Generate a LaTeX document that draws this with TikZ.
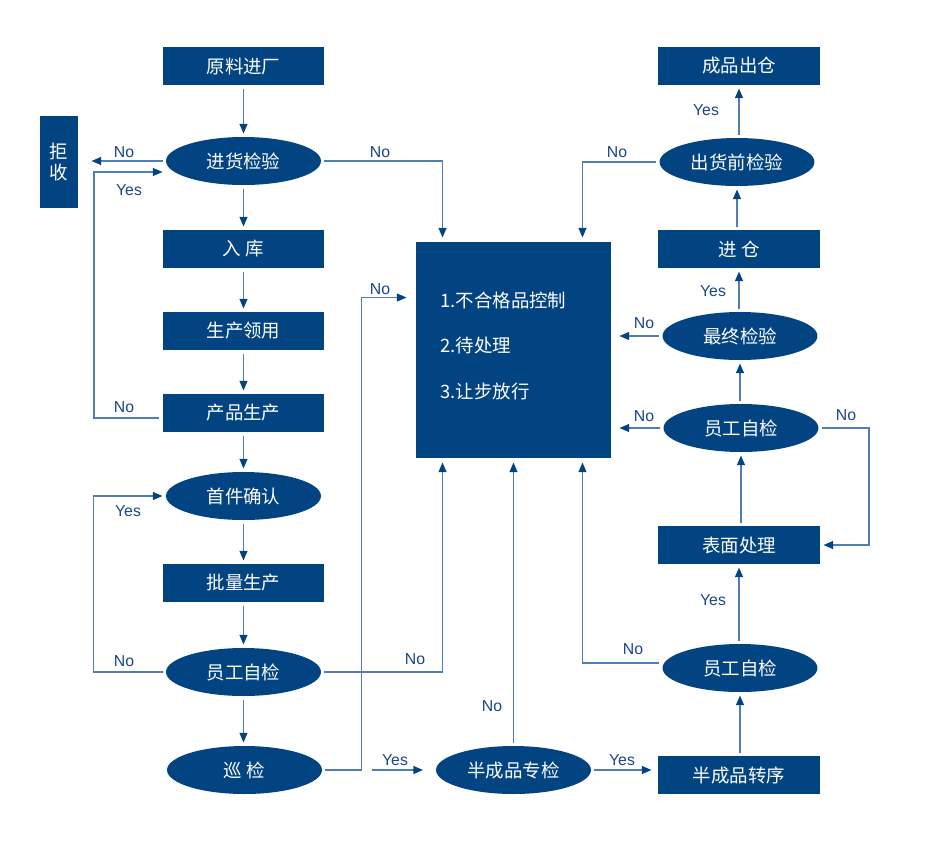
\documentclass[tikz,border=0pt]{standalone}
\usepackage{fontspec}
\setmainfont{Liberation Sans}
\newfontfamily\cjk{Noto Sans CJK SC}
\usetikzlibrary{shapes.geometric, arrows.meta, positioning, calc}
\definecolor{boxBlue}{RGB}{2,67,130}
\definecolor{lineBlue}{RGB}{80,125,180}
\definecolor{tagBlue}{RGB}{25,70,135}

\begin{document}
\begin{tikzpicture}[x=0.02cm, y=-0.02cm,
    box/.style={rectangle, fill=boxBlue, text=white, font=\cjk\fontsize{10.5}{11.5}\selectfont,
        minimum width=3.24cm, minimum height=0.76cm, inner sep=0pt, outer sep=0.07cm},
    oval/.style={ellipse, fill=boxBlue, text=white, font=\cjk\fontsize{10.5}{11.5}\selectfont,
        minimum width=3.1cm, minimum height=0.96cm, inner sep=0pt, outer sep=0.07cm},
    txt/.style={text=white, font=\cjk\fontsize{10.5}{12}\selectfont, inner sep=0pt, anchor=west},
    arr/.style={draw=lineBlue, line width=0.8pt, -{Triangle[length=5.5pt,width=4.5pt,color=boxBlue]}},
    link/.style={draw=lineBlue, line width=0.8pt},
    tag/.style={text=tagBlue, font=\fontsize{9}{10}\selectfont, inner sep=0pt}]
    \useasboundingbox (0,0) rectangle (948,843);

    % Left column: incoming material and production
    \node[box] (ylc) at (243.5,66) {原料进厂};
    \node[oval] (jh) at (243.5,161) {进货检验};
    \node[box] (rk) at (243.5,249) {入 库};
    \node[box] (ly) at (243.5,331) {生产领用};
    \node[box] (cp) at (243.5,413) {产品生产};
    \node[oval] (sj) at (243.5,496) {首件确认};
    \node[box] (pl) at (243.5,583) {批量生产};
    \node[oval] (yg1) at (243.5,672) {员工自检};
    \node[oval] (xj) at (244.5,770) {巡 检};
    \node[box, minimum width=0.76cm, minimum height=1.86cm, align=center] (js) at (59,162) {拒\\收};

    % Nonconforming product box
    \node[box, minimum width=3.9cm, minimum height=4.32cm, outer sep=0.09cm] (bx) at (513.5,350) {};
    \node[txt] (t1) at (440,300) {1.不合格品控制};
    \node[txt] (t2) at (440,346) {2.待处理};
    \node[txt] (t3) at (440,391) {3.让步放行};
    \node[oval] (bz) at (513.5,770) {半成品专检};

    % Right column: finishing and shipping
    \node[box] (cc) at (739,66) {成品出仓};
    \node[oval] (cq) at (737,162) {出货前检验};
    \node[box] (jc) at (739,249) {进 仓};
    \node[oval] (zz) at (740,336) {最终检验};
    \node[oval] (yg2) at (741,428) {员工自检};
    \node[box] (bm) at (739,545) {表面处理};
    \node[oval] (yg3) at (740,668) {员工自检};
    \node[box] (zx) at (739,775) {半成品转序};

    % Straight flow
    \foreach \a/\b in {ylc/jh, jh/rk, rk/ly, ly/cp, cp/sj, sj/pl, pl/yg1, yg1/xj}
        \draw[arr] (\a.south) -- (\a.south |- \b.north);
    \foreach \a/\b in {zx/yg3, yg3/bm, bm/yg2, yg2/zz, zz/jc, jc/cq, cq/cc}
        \draw[arr] (\b.south |- \a.north) -- (\b.south);

    % Left loops
    \draw[arr, shorten >=0.2cm] (jh.west) -- (jh.west -| js.east);
    \draw[arr] ($(cp.west)+(0,5)$) -- ++(-65,0) |- ($(jh.west)+(0,11)$);
    \draw[arr] (yg1.west) -- ++(-69,0) |- (sj.west);

    % Into the nonconforming box
    \draw[arr] (jh.east) -| ($(bx.north west)+(31,0)$);
    \draw[arr] (yg1.east) -| ($(bx.south west)+(31,0)$);
    \draw[arr, shorten >=0.1cm] (xj.east) -- ++(36,0) |- ($(bx.north west)+(0,60)$);
    \draw[arr] (bz.north) -- (bz.north |- bx.south);
    \draw[arr] (cq.west) -| ($(bx.north east)+(-33,0)$);
    \draw[arr, shorten >=0.08cm] (zz.west) -- (zz.west -| bx.east);
    \draw[arr, shorten >=0.08cm] (yg2.west) -- (yg2.west -| bx.east);
    \draw[arr] ($(yg3.west)+(0,-5)$) -| ($(bx.south east)+(-33,0)$);

    % Bottom row and rework loop
    \draw[arr, shorten <=0.93cm, shorten >=0.19cm] (xj.east) -- (bz.west);
    \draw[arr, shorten >=0.06cm] (bz.east) -- (bz.east -| zx.west);
    \draw[arr] (yg2.east) -- ++(47,0) |- (bm.east);

    % Labels
    \node[tag] (n1) at (124,152) {No};
    \node[tag] (y1) at (129,190) {Yes};
    \node[tag] (n2) at (380,152) {No};
    \node[tag] (n3) at (124,407) {No};
    \node[tag] (y2) at (128,511) {Yes};
    \node[tag] (n4) at (124,661) {No};
    \node[tag] (n5) at (415,659) {No};
    \node[tag] (n6) at (380,289) {No};
    \node[tag] (y3) at (395,760) {Yes};
    \node[tag] (n7) at (492,706) {No};
    \node[tag] (y4) at (622,760) {Yes};
    \node[tag] (n8) at (617,152) {No};
    \node[tag] (y5) at (706,110) {Yes};
    \node[tag] (y6) at (713,291) {Yes};
    \node[tag] (n9) at (644,323) {No};
    \node[tag] (n10) at (644,416) {No};
    \node[tag] (n11) at (846,415) {No};
    \node[tag] (y7) at (713,600) {Yes};
    \node[tag] (n12) at (633,649) {No};
\end{tikzpicture}
\end{document}
